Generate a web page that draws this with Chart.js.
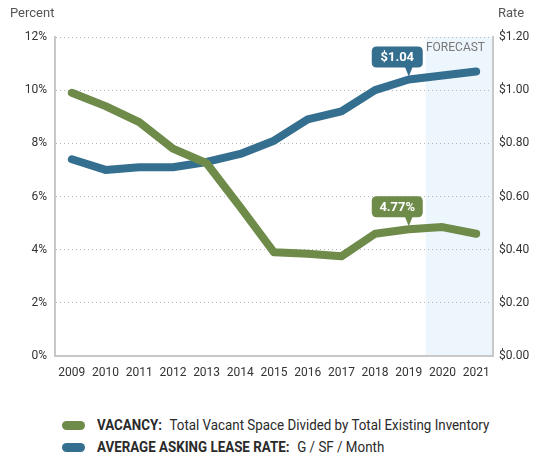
<!DOCTYPE html>
<html>
<head>
<meta charset="utf-8">
<script src="https://cdn.jsdelivr.net/npm/chart.js@4.4.1/dist/chart.umd.min.js"></script>
<style>
  body { margin: 0; background: #fff; }
  #wrap { position: relative; width: 541px; height: 456px; font-family: Roboto, sans-serif; }
  #box { position: absolute; left: 0; top: 0; width: 541px; height: 386px; }
  .legend-row { position: absolute; left: 62px; display: flex; align-items: center; font-size: 15px; color: #2a2a2a; white-space: nowrap; }
  .legend-row .swatch { width: 23px; height: 9px; border-radius: 5px; margin-right: 12px; }
  .legend-row .txt { display: inline-block; transform: scaleX(0.89); transform-origin: left center; }
  .legend-row b { margin-right: 5px; font-weight: 700; }
</style>
</head>
<body>
<div id="wrap">
  <div id="box"><canvas id="chart-vacancy-lease"></canvas></div>
  <div class="legend-row" style="top:416px"><span class="swatch" style="background:#6e8b4a"></span><span class="txt"><b>VACANCY:</b> Total Vacant Space Divided by Total Existing Inventory</span></div>
  <div class="legend-row" style="top:438px"><span class="swatch" style="background:#356f8f"></span><span class="txt"><b>AVERAGE ASKING LEASE RATE:</b> G / SF / Month</span></div>
</div>
<script>
const years = ['2009', '2010', '2011', '2012', '2013', '2014', '2015', '2016', '2017', '2018', '2019', '2020', '2021'];
const vacancy = [9.9, 9.4, 8.8, 7.8, 7.25, 5.6, 3.9, 3.85, 3.75, 4.6, 4.77, 4.85, 4.6];
const leaseRate = [0.74, 0.70, 0.71, 0.71, 0.73, 0.76, 0.81, 0.89, 0.92, 1.00, 1.04, 1.055, 1.07];
const forecastFrom = '2020';
const callouts = [
  { dataset: 0, year: '2019', text: '4.77%' },
  { dataset: 1, year: '2019', text: '$1.04' }
];

const green = '#6e8b4a';
const blue = '#356f8f';
const fontFamily = "Roboto, sans-serif";

function roundRect(ctx, x, y, w, h, r) {
  ctx.beginPath();
  ctx.moveTo(x + r, y);
  ctx.lineTo(x + w - r, y);
  ctx.quadraticCurveTo(x + w, y, x + w, y + r);
  ctx.lineTo(x + w, y + h - r);
  ctx.quadraticCurveTo(x + w, y + h, x + w - r, y + h);
  ctx.lineTo(x + r, y + h);
  ctx.quadraticCurveTo(x, y + h, x, y + h - r);
  ctx.lineTo(x, y + r);
  ctx.quadraticCurveTo(x, y, x + r, y);
  ctx.closePath();
}

const extras = {
  id: 'extras',
  beforeDraw(chart) {
    const { ctx, chartArea, scales } = chart;
    const i = years.indexOf(forecastFrom);
    const x0 = (scales.x.getPixelForValue(i - 1) + scales.x.getPixelForValue(i)) / 2;
    ctx.save();
    ctx.fillStyle = '#eef6fd';
    ctx.fillRect(x0, chartArea.top, chartArea.right - x0, chartArea.bottom - chartArea.top);
    ctx.fillStyle = '#555';
    ctx.font = '13px ' + fontFamily;
    ctx.textBaseline = 'middle';
    ctx.textAlign = 'left';
    ctx.fillText('Percent', 10, 14);
    ctx.fillText('Rate', 498, 14);
    ctx.restore();
  },
  afterDatasetsDraw(chart) {
    const { ctx, chartArea } = chart;
    ctx.save();
    ctx.fillStyle = '#777';
    ctx.font = '12px ' + fontFamily;
    ctx.textAlign = 'right';
    ctx.textBaseline = 'middle';
    ctx.fillText('FORECAST', chartArea.right - 8, chartArea.top + 11);

    callouts.forEach(c => {
      const meta = chart.getDatasetMeta(c.dataset);
      const pt = meta.data[years.indexOf(c.year)];
      const color = chart.data.datasets[c.dataset].borderColor;
      const bottom = pt.y - 12;
      const left = pt.x - 37;
      const w = 51, h = 21;
      ctx.fillStyle = color;
      roundRect(ctx, left, bottom - h, w, h, 5);
      ctx.fill();
      ctx.beginPath();
      ctx.moveTo(pt.x - 4, bottom - 1);
      ctx.lineTo(pt.x + 4, bottom - 1);
      ctx.lineTo(pt.x, pt.y - 3);
      ctx.closePath();
      ctx.fill();
      ctx.fillStyle = '#fff';
      ctx.font = 'bold 13px ' + fontFamily;
      ctx.textAlign = 'center';
      ctx.fillText(c.text, left + w / 2, bottom - h / 2 + 1);
    });
    ctx.restore();
  }
};

const data = {
  labels: years,
  datasets: [
    {
      label: 'VACANCY',
      data: vacancy,
      yAxisID: 'y',
      borderColor: green,
      backgroundColor: green
    },
    {
      label: 'AVERAGE ASKING LEASE RATE',
      data: leaseRate,
      yAxisID: 'y1',
      borderColor: blue,
      backgroundColor: blue
    }
  ]
};

const tickFont = { family: fontFamily, size: 12 };

new Chart(document.getElementById('chart-vacancy-lease'), {
  type: 'line',
  data: data,
  options: {
    responsive: true,
    maintainAspectRatio: false,
    animation: false,
    layout: { padding: { top: 37, left: 0, right: 0, bottom: 0 } },
    elements: {
      line: { borderWidth: 8, tension: 0, borderCapStyle: 'round', borderJoinStyle: 'round' },
      point: { radius: 0, hoverRadius: 0 }
    },
    plugins: {
      legend: { display: false },
      tooltip: { enabled: false }
    },
    scales: {
      x: {
        offset: true,
        grid: { display: false, drawTicks: false },
        border: { display: true, color: '#c8c8c8', width: 2 },
        ticks: { color: '#333', font: tickFont, padding: 10, maxRotation: 0, autoSkip: false },
        afterFit(scale) { scale.height = 30; }
      },
      y: {
        position: 'left',
        min: 0,
        max: 12,
        grid: { color: '#b5b5b5', lineWidth: 1, drawTicks: false },
        border: { display: true, color: '#c8c8c8', width: 2, dash: [1, 3] },
        ticks: { stepSize: 2, color: '#333', font: tickFont, padding: 8, callback: v => v + '%' },
        afterFit(scale) { scale.width = 55; }
      },
      y1: {
        position: 'right',
        min: 0,
        max: 1.2,
        grid: { display: false, drawTicks: false },
        border: { display: true, color: '#c8c8c8', width: 2 },
        ticks: { stepSize: 0.2, color: '#333', font: tickFont, padding: 6, callback: v => '$' + v.toFixed(2) },
        afterFit(scale) { scale.width = 48; }
      }
    }
  },
  plugins: [extras]
});
</script>
</body>
</html>
